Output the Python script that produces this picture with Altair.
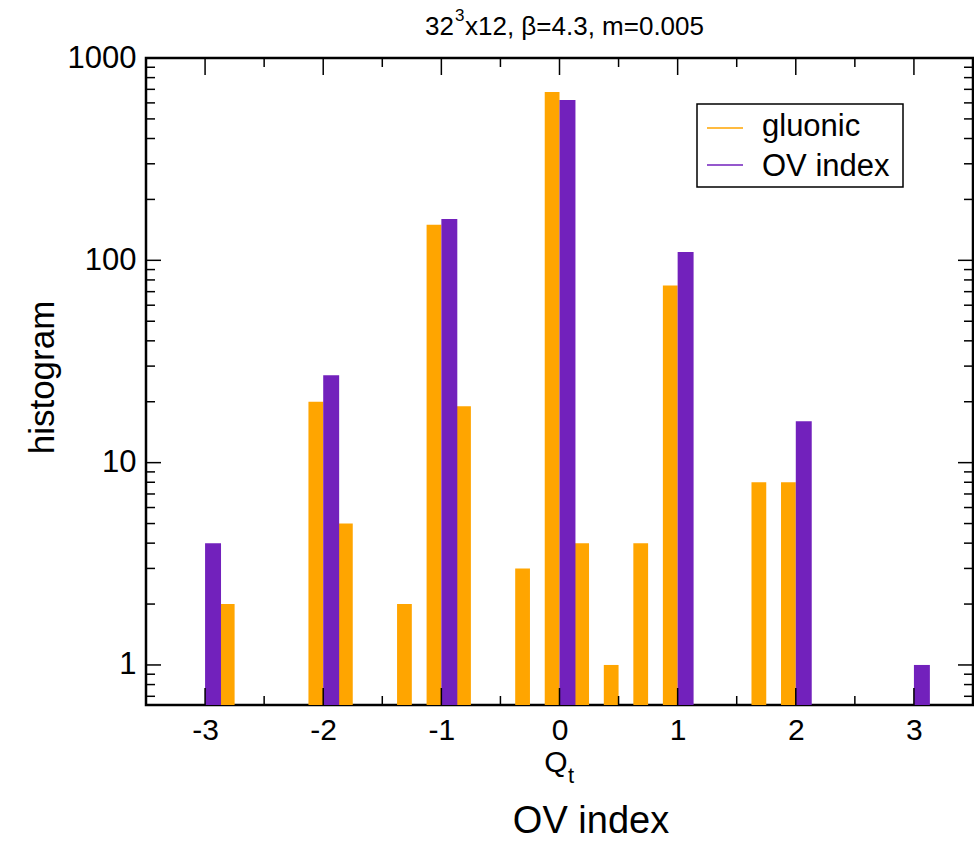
import altair as alt
import pandas as pd

# ---- data ----
gluonic_q = [-2.875, -2.125, -1.875, -1.375, -1.125, -0.875, -0.375, -0.125,
             0.125, 0.375, 0.625, 0.875, 1.625, 1.875]
gluonic_n = [2, 20, 5, 2, 150, 19, 3, 680, 4, 1, 4, 75, 8, 8]
ov_q = [-3, -2, -1, 0, 1, 2, 3]
ov_n = [4, 27, 160, 620, 110, 16, 1]

series_names = ["gluonic", "OV index"]
x_major = [-3, -2, -1, 0, 1, 2, 3]
x_minor = [-2.5, -1.5, -0.5, 0.5, 1.5, 2.5]
y_major = [1, 10, 100, 1000]
y_minor = [0.7, 0.8, 0.9, 2, 3, 4, 5, 6, 7, 8, 9,
           20, 30, 40, 50, 60, 70, 80, 90,
           200, 300, 400, 500, 600, 700, 800, 900]

title_parts = ["32", "3", "x12, β=4.3, m=0.005"]
y_title = "histogram"
bottom_text = "OV index"

# ---- styling ----
W, H = 827, 647
FONT = "Liberation Sans"
ORANGE = "#FFA500"
PURPLE = "#7221BC"
GLU_W = 0.125
OV_W = 0.135
YMIN = 0.634

df = pd.concat([
    pd.DataFrame({"q0": gluonic_q, "n": gluonic_n, "series": series_names[0],
                  "w": GLU_W}),
    pd.DataFrame({"q0": ov_q, "n": ov_n, "series": series_names[1],
                  "w": OV_W}),
])
df["q1"] = df["q0"] + df["w"]

xs = alt.Scale(domain=[-3.5, 3.5], nice=False, zero=False)
ys = alt.Scale(type="log", domain=[YMIN, 1000], nice=False, clamp=True)

x_axis = alt.Axis(values=x_major, ticks=False, domain=False, grid=False,
                  labelFontSize=30, labelPadding=10, title=None,
                  labelFont=FONT, labelColor="black",
                  labelExpr="replace(datum.label, '\u2212', '-')")
y_axis = alt.Axis(values=y_major, ticks=False, domain=False, grid=False,
                  labelFontSize=31, labelPadding=10, title=None,
                  labelFont=FONT, labelColor="black", format="d")

bars = alt.Chart(df).mark_rect().encode(
    x=alt.X("q0:Q", scale=xs, axis=x_axis),
    x2="q1:Q",
    y=alt.Y("n:Q", scale=ys, axis=y_axis),
    y2=alt.Y2(datum=YMIN),
    color=alt.Color("series:N",
                    scale=alt.Scale(domain=series_names, range=[ORANGE, PURPLE]),
                    legend=None),
)


def xticks(vals, length, top):
    d = pd.DataFrame({"v": vals})
    y0 = 0 if top else H
    y1 = length if top else H - length
    return alt.Chart(d).mark_rule(color="black", strokeWidth=1.5).encode(
        x=alt.X("v:Q", scale=xs, axis=x_axis),
        y=alt.value(y0), y2=alt.value(y1))


def yticks(vals, length, right):
    d = pd.DataFrame({"v": vals})
    x0 = W if right else 0
    x1 = W - length if right else length
    return alt.Chart(d).mark_rule(color="black", strokeWidth=1.5).encode(
        y=alt.Y("v:Q", scale=ys, axis=y_axis),
        x=alt.value(x0), x2=alt.value(x1))


ticks = [
    xticks(x_major, 17, False), xticks(x_minor, 9, False),
    xticks(x_major, 17, True), xticks(x_minor, 9, True),
    yticks(y_major, 15, False), yticks(y_minor, 9, False),
    yticks(y_major, 15, True), yticks(y_minor, 9, True),
]

one = pd.DataFrame({"a": [0]})


def text(t, x, y, size, angle=0, align="center"):
    return alt.Chart(one).mark_text(
        text=t, font=FONT, fontSize=size, color="black", angle=angle,
        align=align, baseline="alphabetic").encode(
        x=alt.value(x), y=alt.value(y))


legend_box = alt.Chart(one).mark_rect(fill="white", stroke="black",
                                      strokeWidth=1.5).encode(
    x=alt.value(551), x2=alt.value(757), y=alt.value(46), y2=alt.value(129))
leg_line1 = alt.Chart(one).mark_rule(color=ORANGE, strokeWidth=1.5).encode(
    x=alt.value(561), x2=alt.value(597), y=alt.value(70))
leg_line2 = alt.Chart(one).mark_rule(color=PURPLE, strokeWidth=1.5).encode(
    x=alt.value(561), x2=alt.value(597), y=alt.value(107))

texts = [
    text(title_parts[0], 308, -23, 26, align="right"),
    text(title_parts[1], 309, -37, 17, align="left"),
    text(title_parts[2], 319, -23, 26, align="left"),
    text(y_title, -92, H / 2 - 4, 35, angle=270),
    text("Q", 410, 714, 30),
    text("t", 425, 725, 22),
    text(bottom_text, 445, 775, 38),
    text(series_names[0], 616, 78, 31, align="left"),
    text(series_names[1], 616, 118, 31, align="left"),
]

chart = alt.layer(bars, *ticks, legend_box, leg_line1, leg_line2, *texts).properties(
    width=W, height=H,
    padding={"left": 146, "top": 58, "right": 1, "bottom": 136},
    autosize=alt.AutoSizeParams(type="none"),
    background="white",
).configure_view(stroke="black", strokeWidth=2.5)

chart.save("out.html", embed_options={"renderer": "svg", "actions": False})
